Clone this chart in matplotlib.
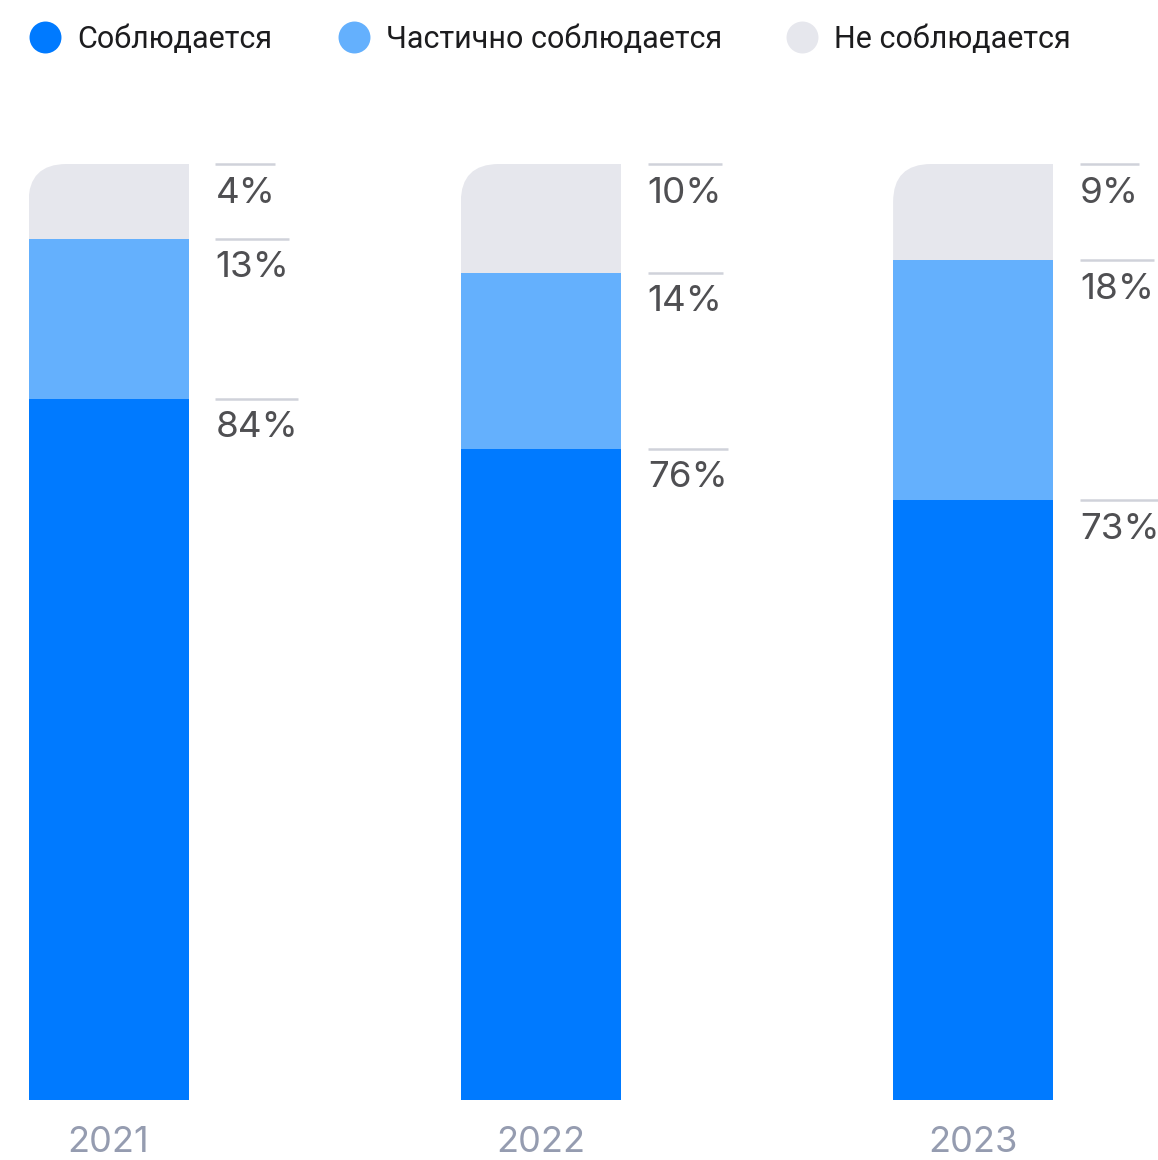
import numpy as np
import matplotlib.pyplot as plt
from matplotlib.patches import FancyBboxPatch
from matplotlib.lines import Line2D

# data
years = ['2021', '2022', '2023']
series = ['Соблюдается', 'Частично соблюдается', 'Не соблюдается']
# segment heights as they are drawn (share of the bar height)
full = np.array([74.9, 69.6, 64.1])
partial = np.array([17.1, 18.8, 25.6])
nonc = np.array([8.0, 11.6, 10.3])
# printed labels
full_lbl = ['84%', '76%', '73%']
partial_lbl = ['13%', '14%', '18%']
nonc_lbl = ['4%', '10%', '9%']

colors = ['#007aff', '#64b0fd', '#e6e7ed']

W, H = 1158, 1160
fig = plt.figure(figsize=(W / 100, H / 100), dpi=100)

# axes: value 0 at y=1100px, value 100 at y=164px
ax = fig.add_axes([0, 60 / H, 1, 936 / H])
step = 432.3          # px between bar centres
ppu = 936 / 100       # px per value unit
ax.set_xlim(-108.5 / step, (W - 108.5) / step)
ax.set_ylim(0, 100)
ax.axis('off')

x = np.arange(len(years))
bw = 160 / step
ax.bar(x, full, bw, color=colors[0], linewidth=0)
ax.bar(x, partial, bw, bottom=full, color=colors[1], linewidth=0)
tops = ax.bar(x, nonc, bw, bottom=full + partial, color=colors[2], linewidth=0)

# round only the top-left corner of every bar
rx = 38 / step
ry = 38 / ppu
totals = full + partial + nonc
for xi, rect, tot in zip(x, tops, totals):
    clip = FancyBboxPatch((xi - bw / 2, -10), bw + 4 * rx, tot + 10,
                          boxstyle=f"round,pad=0,rounding_size={rx}",
                          mutation_aspect=ry / rx, transform=ax.transData)
    rect.set_clip_path(clip)

# value labels with a thin line over each one
pct_font = 'Inter'
texts = []
for i in range(len(years)):
    lx = x[i] + bw / 2 + 27 / step
    for ytop, lbl in [(full[i], full_lbl[i]),
                      (full[i] + partial[i], partial_lbl[i]),
                      (totals[i], nonc_lbl[i])]:
        t = ax.text(lx, ytop - 38.5 / ppu, lbl, ha='left', va='baseline',
                    fontsize=26.5, color='#4f4f52', family=pct_font)
        texts.append((t, ytop))

fig.canvas.draw()
r = fig.canvas.get_renderer()
inv = ax.transData.inverted()
for t, ytop in texts:
    bb = t.get_window_extent(r)
    x0 = inv.transform((bb.x0, 0))[0]
    x1 = inv.transform((bb.x1, 0))[0]
    ax.plot([x0, x1], [ytop, ytop], color='#d0d2da', lw=1.8,
            solid_capstyle='butt', clip_on=False)

for i, yr in enumerate(years):
    ax.text(x[i], -52 / ppu, yr, ha='center', va='baseline', fontsize=26,
            color='#959cb0', family=pct_font, clip_on=False)

# legend
leg_x = [45, 354, 802]
for cx, lbl, c in zip(leg_x, series, colors):
    fig.add_artist(Line2D([cx / W], [1 - 37 / H], marker='o', markersize=23,
                          color=c, markeredgewidth=0, linestyle='none',
                          transform=fig.transFigure))
    fig.text((cx + 32) / W, 1 - 48 / H, lbl, ha='left', va='baseline',
             fontsize=22, color='#1c1c1e', family='Roboto')

fig.savefig('out.png', dpi=100)
